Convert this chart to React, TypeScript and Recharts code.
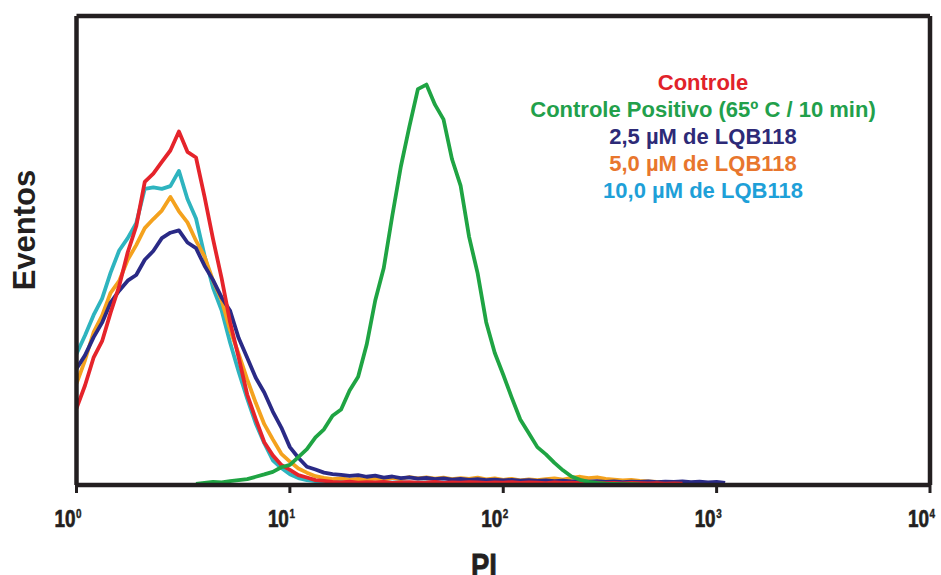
import { LineChart, Line, XAxis, YAxis, ReferenceLine } from "recharts";

const FONT = '"Liberation Sans", Arial, Helvetica, sans-serif';
const INK = "#231f20";

// log-spaced fluorescence channels (PI)
const channels = [
  1, 1.096, 1.202, 1.318, 1.445, 1.585, 1.738, 1.905, 2.089, 2.291,
  2.512, 2.754, 3.02, 3.311, 3.631, 3.981, 4.365, 4.786, 5.248, 5.754,
  6.31, 6.918, 7.586, 8.318, 9.12, 10, 10.96, 12.02, 13.18, 14.45,
  15.85, 17.38, 19.05, 20.89, 22.91, 25.12, 27.54, 30.2, 33.11, 36.31,
  39.81, 43.65, 47.86, 52.48, 57.54, 63.1, 69.18, 75.86, 83.18, 91.2,
  100, 109.6, 120.2, 131.8, 144.5, 158.5, 173.8, 190.5, 208.9, 229.1,
  251.2, 275.4, 302, 331.1, 363.1, 398.1, 436.5, 478.6, 524.8, 575.4,
  631, 691.8, 758.6, 831.8, 912, 1000, 1096, 1202, 1318, 1445, 1585,
];

const controle = [
  29.7, 38.6, 49.4, 55.8, 66.9, 77.2, 90.3, 100.4, 117.6, 120.8,
  125.4, 129.8, 137.2, 129.3, 127.1, 111.9, 95.4, 80.3, 63.1, 49.5,
  35.1, 25.6, 16.6, 11.5, 7.8, 5.9, 3.8, 2.9, 1.9, 1.6,
  1.2, 1.0, 1.3, 0.9, 1.1, 1.0, 1.2, 0.8, 1.0, 1.1,
  0.9, 1.0, 1.2, 0.8, 1.0, 0.9, 1.1, 1.0, 0.8, 1.0,
  0.9, 1.1, 0.8, 1.0, 0.9, 0.7, 1.0, 0.8, 0.9, 0.7,
  0.8, 0.9, 0.7, 0.8, 0.6, 0.8, 0.7, 0.6, 0.7, 0.5,
  0.6, 0.5, null, null, null, null, null, null, null, null, null,
];

const positivo = [
  null, null, null, null, null, null, null, null, null, null,
  null, null, null, null, 0.4, 0.8, 1.2, 1.0, 1.5, 1.9,
  2.3, 3.2, 4.1, 5.1, 6.9, 7.8, 10.8, 13.9, 18.5, 21.6,
  26.9, 29.3, 36.7, 42.0, 54.5, 71.6, 84.2, 104.5, 123.5, 139.1,
  153.6, 155.4, 147.6, 141.9, 126.4, 116.2, 96.3, 82.1, 63.2, 51.3,
  42.8, 33.9, 25.4, 20.1, 14.7, 11.9, 8.6, 5.7, 3.3, 2.0,
  1.2, 0.8, 0.5, 0.4, 0.3, 0.3, 0.2, null, null, null,
  null, null, null, null, null, null, null, null, null, null, null,
];

const lqb25 = [
  45.1, 50.3, 57.3, 63.0, 70.8, 75.4, 79.3, 81.5, 87.4, 90.8,
  95.8, 97.9, 98.8, 94.1, 91.9, 85.1, 79.5, 72.8, 67.6, 57.0,
  49.4, 41.6, 35.9, 28.5, 22.3, 14.7, 10.6, 7.1, 6.0, 4.8,
  4.2, 3.9, 3.5, 3.8, 3.2, 3.6, 2.9, 3.3, 2.7, 3.0,
  2.5, 2.8, 2.3, 2.6, 2.1, 2.4, 2.0, 2.3, 1.9, 2.1,
  1.8, 2.0, 1.7, 1.9, 1.6, 1.8, 1.5, 1.7, 1.4, 1.6,
  1.3, 1.5, 1.2, 1.4, 1.1, 1.3, 1.2, 1.4, 1.1, 1.3,
  1.2, 1.4, 1.1, 1.3, 1.0, 1.2, 0.8, null, null, null, null,
];

const lqb50 = [
  39.3, 48.4, 59.2, 65.7, 74.6, 79.2, 87.4, 93.1, 99.7, 103.2,
  106.5, 111.8, 106.2, 101.9, 94.8, 88.7, 79.3, 71.8, 60.1, 50.9,
  41.0, 31.9, 23.6, 17.7, 12.1, 9.1, 6.4, 4.8, 3.4, 2.8,
  2.3, 2.6, 2.1, 2.4, 2.0, 2.5, 2.2, 2.8, 2.4, 3.1,
  2.6, 3.0, 2.5, 2.9, 2.3, 2.7, 2.4, 2.9, 2.2, 2.6,
  2.0, 2.4, 1.8, 2.2, 1.9, 2.3, 2.6, 2.1, 2.8, 3.2,
  2.7, 3.0, 2.4, 2.1, 1.8, 2.0, 1.6, 1.4, 1.2, 1.0,
  0.8, 0.7, 0.5, null, null, null, null, null, null, null, null,
];

const lqb100 = [
  50.9, 58.0, 65.9, 72.3, 82.4, 91.0, 95.8, 101.6, 114.9, 115.5,
  114.9, 116.0, 121.9, 111.0, 103.4, 89.1, 76.5, 67.8, 55.2, 44.0,
  33.5, 23.9, 16.2, 9.6, 6.6, 4.2, 2.7, 1.9, 1.5, 1.3,
  1.1, 1.2, 0.9, 1.0, 1.1, 0.8, 1.0, 0.9, 1.1, 0.8,
  0.9, 1.0, 0.8, 0.9, 0.7, 0.8, 0.9, 0.7, 0.6, 0.7,
  0.5, 0.6, null, null, null, null, null, null, null, null,
  null, null, null, null, null, null, null, null, null, null,
  null, null, null, null, null, null, null, null, null, null, null,
];

const xTicks = [1, 10, 100, 1000, 10000];
const xTickExponents = ["0", "1", "2", "3", "4"];
const yTicks = [0, 50, 100, 150];
const yMax = 182;

const legendItems = [
  { name: "Controle", color: "#e1222a" },
  { name: "Controle Positivo (65º C / 10 min)", color: "#22a04b" },
  { name: "2,5 µM de LQB118", color: "#2d2a77" },
  { name: "5,0 µM de LQB118", color: "#e8762d" },
  { name: "10,0 µM de LQB118", color: "#1ea0d8" },
];

const rows = channels.map((ch, i) => ({
  ch,
  controle: controle[i],
  positivo: positivo[i],
  lqb25: lqb25[i],
  lqb50: lqb50[i],
  lqb100: lqb100[i],
}));

const renderDecadeTick = (props: any) => {
  const { x, y, payload } = props;
  const exp = xTickExponents[xTicks.indexOf(payload.value)];
  return (
    <g fill={INK} stroke={INK} strokeWidth={0.7} fontWeight="bold" fontFamily={FONT}>
      <text x={x - 1} y={y + 32} textAnchor="end" fontSize={24} textLength={21} lengthAdjust="spacingAndGlyphs">10</text>
      <text x={x - 0.5} y={y + 22.5} fontSize={12} strokeWidth={0.4} textLength={5.5} lengthAdjust="spacingAndGlyphs">{exp}</text>
    </g>
  );
};

const renderPiLabel = () => (
  <text x={484} y={577} textAnchor="middle" fontSize={34} fontWeight="bold" fontFamily={FONT}
    textLength={26} lengthAdjust="spacingAndGlyphs" fill={INK} stroke={INK} strokeWidth={0.8}>PI</text>
);

const renderEventosLabel = () => (
  <text x={35} y={230} transform="rotate(-90 35 230)" textAnchor="middle" fontSize={31}
    fontWeight="bold" fontFamily={FONT} fill={INK}>Eventos</text>
);

export default function App() {
  return (
    <div style={{ position: "absolute", left: 0, top: 0, width: 941, height: 575, background: "#fff", overflow: "hidden" }}>
      <LineChart width={941} height={575} data={rows} margin={{ top: 16, right: 11, bottom: 60, left: 16.5 }}>
        <XAxis dataKey="ch" type="number" scale="log" domain={[1, 10000]} ticks={xTicks} interval={0}
          allowDataOverflow height={30} axisLine={{ stroke: INK, strokeWidth: 4.5 }}
          tickLine={{ stroke: INK, strokeWidth: 3 }} tickSize={8} tick={renderDecadeTick} label={renderPiLabel} />
        <YAxis type="number" domain={[0, yMax]} ticks={yTicks} width={60} allowDataOverflow
          axisLine={{ stroke: INK, strokeWidth: 4.5 }} tickLine={{ stroke: INK, strokeWidth: 3 }}
          tickSize={13} tick={false} label={renderEventosLabel} />
        <ReferenceLine y={yMax} stroke={INK} strokeWidth={4.5} />
        <ReferenceLine x={10000} stroke={INK} strokeWidth={4.5} />
        <Line dataKey="lqb100" stroke="#2eb4bf" strokeWidth={3.8} dot={false} isAnimationActive={false} strokeLinejoin="round" />
        <Line dataKey="lqb50" stroke="#f4a21e" strokeWidth={3.8} dot={false} isAnimationActive={false} strokeLinejoin="round" />
        <Line dataKey="lqb25" stroke="#2a2a86" strokeWidth={3.8} dot={false} isAnimationActive={false} strokeLinejoin="round" />
        <Line dataKey="controle" stroke="#e5242b" strokeWidth={3.8} dot={false} isAnimationActive={false} strokeLinejoin="round" />
        <Line dataKey="positivo" stroke="#1fa443" strokeWidth={3.8} dot={false} isAnimationActive={false} strokeLinejoin="round" />
      </LineChart>
      <div style={{ position: "absolute", top: 69, left: 503, width: 400, textAlign: "center", fontFamily: FONT,
        fontWeight: "bold", fontSize: 22, lineHeight: "27px" }}>
        {legendItems.map((item) => (
          <div key={item.name} style={{ color: item.color }}>{item.name}</div>
        ))}
      </div>
    </div>
  );
}
